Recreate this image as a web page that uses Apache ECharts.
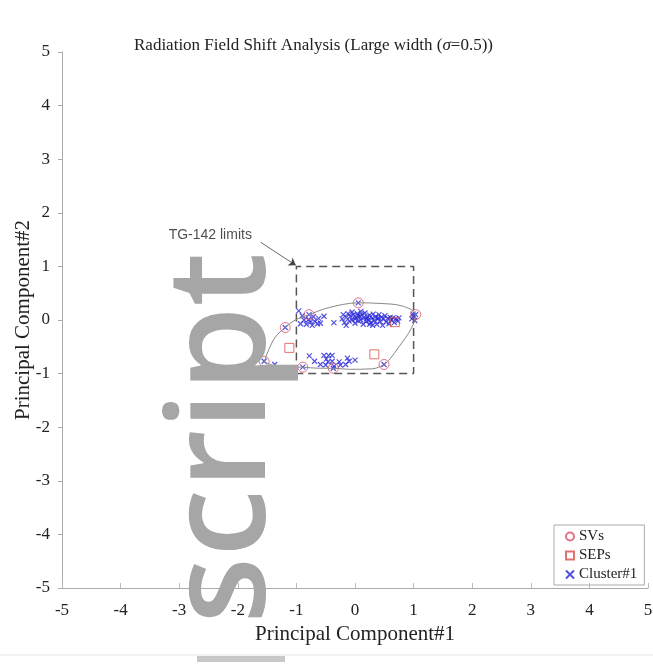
<!DOCTYPE html>
<html>
<head>
<meta charset="utf-8">
<script src="https://cdn.jsdelivr.net/npm/echarts@6/dist/echarts.min.js"></script>
<style>html,body{margin:0;padding:0;background:#fff}#c{width:653px;height:664px}</style>
</head>
<body>
<div id="c"></div>
<script>
var axisTicks = [-5,-4,-3,-2,-1,0,1,2,3,4,5];
var svPoints = [[-1.55,-0.77],[-1.19,-0.14],[-0.785,0.1],[0.056,0.32],[1.035,0.1],[-0.89,-0.88],[-0.37,-0.9],[0.495,-0.83]];
var sepPoints = [[-1.12,-0.52],[0.33,-0.64],[0.68,-0.04]];
var clusterPoints = [
  [-0.96,0.17],[-0.93,-0.07],[-0.87,0.0],[-0.83,-0.08],[-0.79,0.01],[-0.76,-0.04],[-0.73,-0.1],[-0.69,-0.02],[-0.64,-0.07],[-0.62,0.03],[-0.59,-0.06],[-0.53,0.07],[-0.9,0.08],[-0.71,0.06],
  [-0.36,-0.05],
  [-0.22,0.02],[-0.2,0.1],[-0.18,-0.05],[-0.15,0.05],[-0.12,0.12],[-0.1,-0.02],[-0.08,0.07],[-0.05,0.0],[-0.03,0.1],[0.0,-0.06],[0.02,0.04],[0.04,0.12],[0.06,-0.02],[0.08,0.07],[0.1,0.0],[0.12,0.1],[0.14,-0.08],[0.15,0.04],[0.17,0.13],[0.19,-0.03],[0.21,0.06],[0.23,0.0],[0.25,0.09],[0.27,-0.05],[0.29,0.03],[0.31,0.11],[0.33,-0.01],[0.35,0.06],[0.37,-0.08],[0.39,0.02],[0.41,0.1],[0.43,-0.03],[0.45,0.05],[0.47,-0.1],[0.49,0.02],[0.51,0.08],[0.53,-0.04],[0.56,0.03],[0.58,-0.07],[0.6,0.05],[0.62,0.0],[0.65,0.04],[0.67,-0.05],[0.7,0.02],[0.73,-0.02],[0.75,0.04],[-0.05,0.15],[0.1,0.16],[0.3,-0.1],[0.0,0.02],[0.2,0.02],[0.4,0.04],[0.05,0.08],[0.25,-0.08],[-0.15,-0.1],
  [0.97,0.02],[1.0,0.07],[1.02,-0.01],[0.99,0.11],
  [-0.78,-0.67],[-0.53,-0.66],[-0.45,-0.66],[-0.39,-0.66],[-0.49,-0.73],[-0.69,-0.77],[-0.46,-0.78],[-0.39,-0.77],[-0.13,-0.71],[-0.1,-0.77],[0.0,-0.75],[-0.27,-0.78],[-0.59,-0.83],[-0.5,-0.84],[-0.36,-0.86],[-0.25,-0.84],[-0.16,-0.83],[-1.37,-0.83],
  [-1.55,-0.77],[-1.19,-0.14],[-0.785,0.1],[0.056,0.32],[1.035,0.1],[-0.89,-0.88],[-0.37,-0.9],[0.495,-0.83]
];
var contourPoints = [[-1.55,-0.78],[-1.47,-0.55],[-1.36,-0.32],[-1.19,-0.14],[-1.02,0.0],[-0.785,0.1],[-0.45,0.23],[0.056,0.32],[0.41,0.31],[0.81,0.26],[1.035,0.1],[0.96,-0.16],[0.75,-0.5],[0.58,-0.75],[0.495,-0.83],[0.3,-0.91],[-0.1,-0.92],[-0.37,-0.9],[-0.62,-0.9],[-0.89,-0.88],[-1.3,-0.87],[-1.55,-0.78]];
var limitBox = [[-1,-1],[-1,1],[1,1],[1,-1],[-1,-1]];
var annotationText = 'TG-142 limits';
var annotationPos = [-2.47,1.58];
var arrowFrom = [-1.61,1.45];
var arrowTo = [-1.01,1.02];

var serif = '"Liberation Serif","Times New Roman",serif';
var sans = '"Liberation Sans",Arial,sans-serif';
var chart = echarts.init(document.getElementById('c'));
chart.setOption({
  animation: false,
  backgroundColor: '#fff',
  title: {
    text: 'Radiation Field Shift Analysis (Large width ({s|σ}=0.5))',
    left: 129, top: 32,
    textStyle: {fontFamily: serif, fontSize: 17, fontWeight: 'normal', color: '#222',
      rich: {s: {fontFamily: serif, fontSize: 17, fontStyle: 'italic', color: '#222'}}}
  },
  grid: {left: 62, right: 5, top: 52, bottom: 76, containLabel: false, outerBoundsMode: 'none'},
  legend: {
    orient: 'vertical', left: 554, top: 525,
    padding: [4, 7, 3, 11], itemGap: 4, itemWidth: 8, itemHeight: 8,
    borderColor: '#aaa', borderWidth: 1, borderRadius: 0,
    textStyle: {fontFamily: serif, fontSize: 15, color: '#222'},
    data: ['SVs', 'SEPs', 'Cluster#1']
  },
  xAxis: {
    type: 'value', min: -5, max: 5, interval: 1,
    name: 'Principal Component#1', nameLocation: 'middle', nameGap: 36, nameMoveOverlap: false,
    nameTextStyle: {fontFamily: serif, fontSize: 21, color: '#222'},
    axisLine: {onZero: false, lineStyle: {color: '#aaa', width: 1}},
    axisTick: {inside: true, length: 5, lineStyle: {color: '#bbb'}},
    axisLabel: {fontFamily: serif, fontSize: 17, color: '#222', margin: 14},
    splitLine: {show: false}
  },
  yAxis: {
    type: 'value', min: -5, max: 5, interval: 1,
    name: 'Principal Component#2', nameLocation: 'middle', nameGap: 28, nameMoveOverlap: false,
    nameTextStyle: {fontFamily: serif, fontSize: 21, color: '#222'},
    axisLine: {show: true, onZero: false, lineStyle: {color: '#aaa', width: 1}},
    axisTick: {show: true, length: 4, lineStyle: {color: '#aaa'}},
    axisLabel: {fontFamily: serif, fontSize: 17, color: '#222', margin: 12},
    splitLine: {show: false}
  },
  series: [
    {
      type: 'line', data: limitBox, symbol: 'none', silent: true,
      lineStyle: {color: '#555', width: 1.5, type: [8, 5]},
      markLine: {
        silent: true, symbol: ['none', 'arrow'], symbolSize: 7,
        lineStyle: {color: '#444', width: 0.8, type: 'solid'},
        label: {show: false},
        data: [[{coord: arrowFrom}, {coord: arrowTo}]]
      }
    },
    {
      type: 'line', data: contourPoints, symbol: 'none', smooth: 0.35, silent: true,
      lineStyle: {color: '#888', width: 1}
    },
    {
      type: 'scatter', data: [annotationPos], symbol: 'circle', symbolSize: 1, silent: true,
      itemStyle: {color: 'transparent'},
      label: {show: true, position: 'inside', formatter: annotationText,
        fontFamily: sans, fontSize: 14, color: '#222'}
    },
    {
      name: 'Cluster#1', type: 'scatter', data: clusterPoints,
      symbol: 'path://M0,0L10,10M10,0L0,10', symbolSize: 5,
      itemStyle: {color: 'transparent', borderColor: '#2525d8', borderWidth: 1.2}
    },
    {
      name: 'SVs', type: 'scatter', data: svPoints,
      symbol: 'circle', symbolSize: 10,
      itemStyle: {color: 'transparent', borderColor: '#d9506a', borderWidth: 1}
    },
    {
      name: 'SEPs', type: 'scatter', data: sepPoints,
      symbol: 'rect', symbolSize: 9,
      itemStyle: {color: 'transparent', borderColor: '#d9504a', borderWidth: 1}
    }
  ],
  graphic: [
    {type: 'line', shape: {x1: 0, y1: 655, x2: 653, y2: 655}, style: {stroke: '#e3e3e3', lineWidth: 1}, z: 100},
    {type: 'rect', shape: {x: 197, y: 656, width: 88, height: 6}, style: {fill: '#c8c8c8'}, z: 100},
    {type: 'text', x: 226, y: 438, rotation: Math.PI / 2, z: 200,
      style: {text: 'script', font: '600 137px "Open Sans", Arial, sans-serif', fill: '#a6a6a6',
        align: 'center', verticalAlign: 'middle', textAlign: 'center', textVerticalAlign: 'middle'}}
  ]
});
</script>
</body>
</html>
